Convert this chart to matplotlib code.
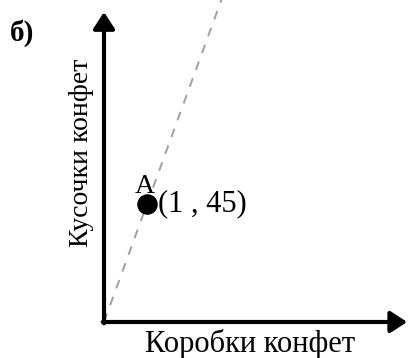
import numpy as np
import matplotlib.pyplot as plt

# data: the marked point and the proportional line through it
point_x = [1]
point_y = [45]
point_name = "A"
point_label = "(1 , 45)"
x_label = "Коробки конфет"
y_label = "Кусочки конфет"
panel = "б)"

plt.rcParams['font.family'] = ['Liberation Serif', 'DejaVu Serif']

fig = plt.figure(figsize=(4.08, 3.58), dpi=100)
ax = fig.add_axes([0, 0, 1, 1])
ax.set_xlim(-2.419, 7.07)
ax.set_ylim(-13.73, 122.8)
ax.axis('off')

# axes arrows
arrow = dict(arrowstyle='-|>,head_length=1.0,head_width=0.65', lw=3, color='black',
             shrinkA=0, shrinkB=0)
ax.annotate('', xy=(0, 118.2), xytext=(0, -0.5), arrowprops=arrow)
ax.annotate('', xy=(7.05, 0), xytext=(-0.03, 0), arrowprops=arrow)

# dashed proportional line y = 45x
slope = point_y[0] / point_x[0]
xs = np.array([0, 124 / slope])
ax.plot(xs, slope * xs, ls=(0, (4.6, 4.6)), color='#a0a0a0', lw=1.4)

ax.scatter(point_x, point_y, s=190, color='black', zorder=3)
ax.text(point_x[0] + 0.256, point_y[0], point_label, fontsize=22, va='center', ha='left')
ax.text(point_x[0] - 0.047, 49.2, point_name, fontsize=20, va='baseline', ha='center')

ax.text(3.4, -11.44, x_label, fontsize=22, ha='center', va='baseline')
ax.text(-0.535, 64.5, y_label, fontsize=20, ha='center', va='center', rotation=90)
fig.text(22 / 408, 1 - 33 / 358, panel, fontsize=21, fontweight='bold', ha='center', va='center')

fig.savefig('out.png', dpi=100)
